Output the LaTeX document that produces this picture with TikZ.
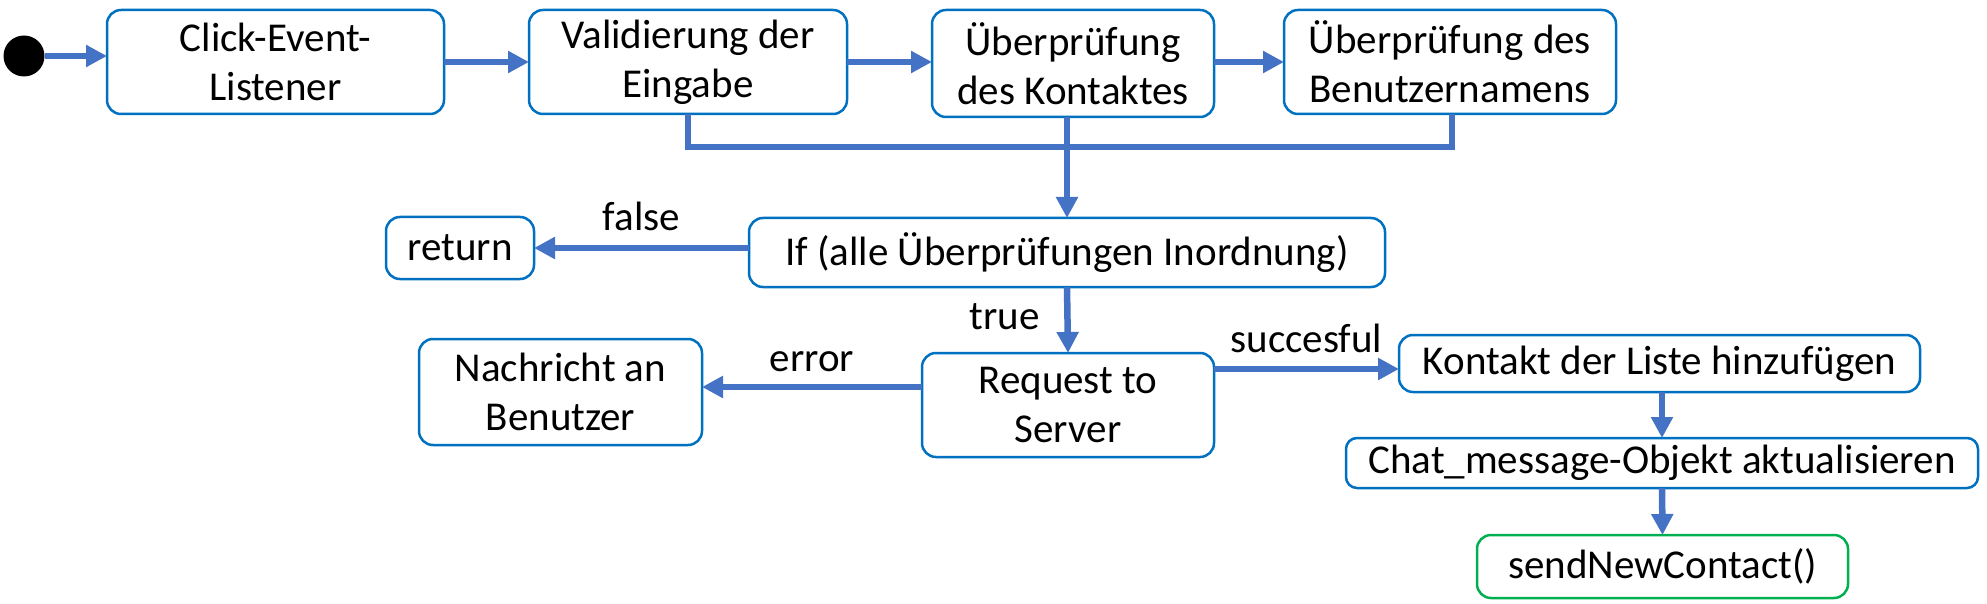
\documentclass[tikz,border=0pt]{standalone}
\usepackage{fontspec}
\setmainfont{Carlito}
\usetikzlibrary{arrows.meta}
\definecolor{boxblue}{HTML}{0070C0}
\definecolor{arrblue}{HTML}{4472C4}
\definecolor{boxgreen}{HTML}{00B050}
\begin{document}
\begin{tikzpicture}[x=1pt,y=-1pt,
  box/.style={draw=boxblue, line width=2.5pt, rounded corners=14pt, inner sep=0pt, outer sep=0pt, align=center, font=\fontsize{41}{49}\selectfont},
  arr/.style={draw=arrblue, line width=6.5pt, -{Triangle[length=21pt,width=21pt]}},
  bar/.style={draw=arrblue, line width=6.5pt, line join=miter},
  lbl/.style={font=\fontsize{41}{49}\selectfont, inner sep=0pt, anchor=base}]
\useasboundingbox (0,0) rectangle (1987,604);

\node[circle, fill=black, minimum size=41pt, inner sep=0pt] (dot) at (24,56) {};
\node[box, minimum width=337pt, minimum height=104pt] (b1) at (275.5,62) {Click-Event-\\Listener};
\node[box, minimum width=318pt, minimum height=104pt] (b2) at (688,62) {Validierung der\\Eingabe};
\node[box, minimum width=282pt, minimum height=107pt] (b3) at (1073,63.5) {Überprüfung\\des Kontaktes};
\node[box, minimum width=332pt, minimum height=104pt] (b4) at (1450,62) {Überprüfung des\\Benutzernamens};
\node[box, minimum width=636pt, minimum height=69pt] (ifb) at (1067,252.5) {If (alle Überprüfungen Inordnung)};
\node[box, minimum width=148pt, minimum height=62pt] (ret) at (460,248) {return};
\node[box, minimum width=292pt, minimum height=104pt] (req) at (1068,405) {Request to\\Server};
\node[box, minimum width=283pt, minimum height=106pt] (nach) at (560.5,392) {Nachricht an\\Benutzer};
\node[box, minimum width=521pt, minimum height=57pt] (kont) at (1659.5,363.5) {Kontakt der Liste hinzufügen};
\node[box, rounded corners=11pt, minimum width=632pt, minimum height=50pt] (chat) at (1662,463) {Chat\_message-Objekt aktualisieren};
\node[box, draw=boxgreen, minimum width=371pt, minimum height=63pt] (send) at (1662.5,566.5) {sendNewContact()};

\coordinate (barl) at (688,147);
\coordinate (barr) at (1452,147);
\coordinate (errend) at ([yshift=5pt]nach.east);
\coordinate (sucend) at ([yshift=-5.5pt]kont.west);

\draw[arr] (dot.east) -- (dot.east -| b1.west);
\draw[arr] (b1.east) -- (b2.west);
\draw[arr] (b2.east) -- (b2.east -| b3.west);
\draw[arr] (b4.west -| b3.east) -- (b4.west);
\draw[bar] (b2.south) -- (barl) -- (barr) -- (b4.south -| barr);
\draw[arr] (ifb.north |- b3.south) -- (ifb.north);
\draw[arr] (ifb.west |- ret.east) -- (ret.east) node[lbl, pos=0.5, yshift=17pt] {false};
\draw[arr] (ifb.south) -- (req.north) node[lbl, pos=0.65, xshift=-63pt] {true};
\draw[arr] (req.west |- errend) -- (errend) node[lbl, pos=0.5, yshift=16pt] {error};
\draw[arr] (req.east |- sucend) -- (sucend) node[lbl, pos=0.5, yshift=17pt] {succesful};
\draw[arr] (chat.north |- kont.south) -- (chat.north);
\draw[arr] (chat.south) -- (send.north);
\end{tikzpicture}
\end{document}
